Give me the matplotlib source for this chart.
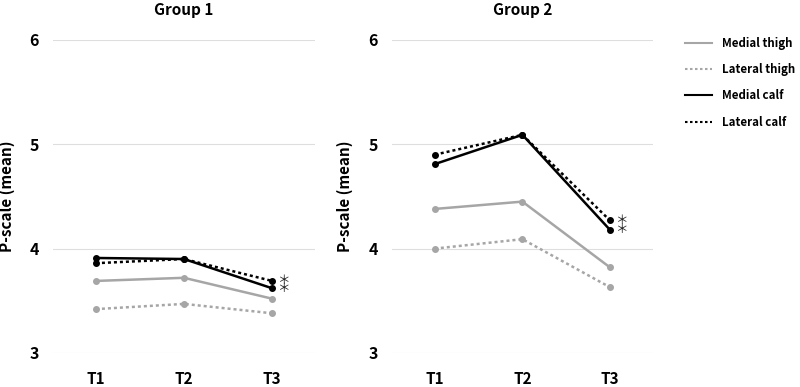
import numpy as np
import matplotlib
matplotlib.use("Agg")
import matplotlib.pyplot as plt

plt.rcParams['font.family'] = ['Noto Sans CJK JP', 'DejaVu Sans']

# ======= DATA ===========
timepoints = ["T1", "T2", "T3"]
groups = ["Group 1", "Group 2"]
series_names = ["Medial thigh", "Lateral thigh", "Medial calf", "Lateral calf"]

g1_medial_thigh = [3.69, 3.72, 3.52]
g1_lateral_thigh = [3.42, 3.47, 3.38]
g1_medial_calf = [3.91, 3.90, 3.62]
g1_lateral_calf = [3.86, 3.90, 3.69]

g2_medial_thigh = [4.38, 4.45, 3.82]
g2_lateral_thigh = [4.00, 4.09, 3.63]
g2_medial_calf = [4.81, 5.09, 4.18]
g2_lateral_calf = [4.90, 5.09, 4.27]

group_data = [
    [g1_medial_thigh, g1_lateral_thigh, g1_medial_calf, g1_lateral_calf],
    [g2_medial_thigh, g2_lateral_thigh, g2_medial_calf, g2_lateral_calf],
]

# line styles per series: (color, linestyle)
styles = [
    ("#a6a6a6", "-"),
    ("#a6a6a6", (0, (1.2, 1.2))),
    ("#000000", "-"),
    ("#000000", (0, (1.2, 1.2))),
]

# ======= PLOT ===========
fig = plt.figure(figsize=(8, 3.87), dpi=100)
ax1 = fig.add_axes([0.066, 0.088, 0.328, 0.809])
ax2 = fig.add_axes([0.490, 0.088, 0.326, 0.809])

x = np.arange(len(timepoints))
for ax, title, data, lab_x in zip([ax1, ax2], groups, group_data, [-0.145, -0.15]):
    for vals, (col, ls), name in zip(data, styles, series_names):
        ax.plot(x, vals, color=col, linestyle=ls, linewidth=1.8,
                marker='o', markersize=4, label=name, zorder=3)
    # significance marks next to calf values at T3
    for vals in data[2:]:
        ax.text(x[-1] + 0.13, vals[-1], "＊", fontsize=9, color="#222222",
                ha='center', va='center')
    ax.set_xlim(-0.49, 2.49)
    ax.set_ylim(3, 6)
    ax.set_yticks([3, 4, 5, 6])
    ax.set_xticks(x)
    ax.set_xticklabels(timepoints, fontweight='bold', fontsize=11)
    for lab in ax.get_yticklabels():
        lab.set_fontweight('bold')
        lab.set_fontsize(11.5)
    ax.grid(axis='y', color='#dedede', linewidth=0.8, zorder=0)
    ax.tick_params(axis='x', length=0, pad=13)
    ax.tick_params(axis='y', length=0, pad=10)
    for sp in ax.spines.values():
        sp.set_visible(False)
    ax.set_title(title, fontweight='bold', fontsize=11, pad=18)
    ax.set_ylabel("P-scale (mean)", fontweight='bold', fontsize=11)
    ax.yaxis.set_label_coords(lab_x, 0.5)

leg = fig.legend([plt.Line2D([], [], color=c, linestyle=l, linewidth=1.5) for c, l in styles],
                 series_names, loc='upper left', bbox_to_anchor=(0.856, 0.905),
                 frameon=False, borderpad=0, borderaxespad=0,
                 handlelength=2.35, handletextpad=0.85, labelspacing=1.15,
                 prop={'weight': 'bold', 'size': 8.3})

plt.savefig("out.png", dpi=100)
